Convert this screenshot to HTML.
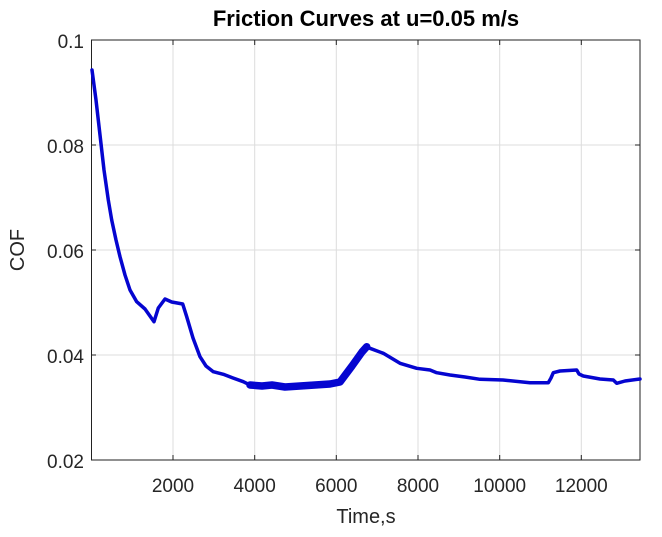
<!DOCTYPE html>
<html><head><style>body{margin:0;background:#fff}</style></head><body>
<svg width="662" height="532" xmlns="http://www.w3.org/2000/svg" font-family="Liberation Sans, Arial, sans-serif">
<rect width="662" height="532" fill="#fff"/>
<g stroke="#dcdcdc" stroke-width="1">
<line x1="173" y1="40" x2="173" y2="460"/><line x1="254.7" y1="40" x2="254.7" y2="460"/><line x1="336.3" y1="40" x2="336.3" y2="460"/><line x1="418" y1="40" x2="418" y2="460"/><line x1="499.7" y1="40" x2="499.7" y2="460"/><line x1="581.3" y1="40" x2="581.3" y2="460"/>
<line x1="91.5" y1="145" x2="640" y2="145"/><line x1="91.5" y1="250" x2="640" y2="250"/><line x1="91.5" y1="355" x2="640" y2="355"/>
</g>
<g stroke="#222" stroke-width="1">
<line x1="173" y1="460" x2="173" y2="455"/><line x1="254.7" y1="460" x2="254.7" y2="455"/><line x1="336.3" y1="460" x2="336.3" y2="455"/><line x1="418" y1="460" x2="418" y2="455"/><line x1="499.7" y1="460" x2="499.7" y2="455"/><line x1="581.3" y1="460" x2="581.3" y2="455"/>
<line x1="173" y1="40" x2="173" y2="45"/><line x1="254.7" y1="40" x2="254.7" y2="45"/><line x1="336.3" y1="40" x2="336.3" y2="45"/><line x1="418" y1="40" x2="418" y2="45"/><line x1="499.7" y1="40" x2="499.7" y2="45"/><line x1="581.3" y1="40" x2="581.3" y2="45"/>
<line x1="91.5" y1="145" x2="96" y2="145"/><line x1="91.5" y1="250" x2="96" y2="250"/><line x1="91.5" y1="355" x2="96" y2="355"/>
<line x1="640" y1="145" x2="635" y2="145"/><line x1="640" y1="250" x2="635" y2="250"/><line x1="640" y1="355" x2="635" y2="355"/>
<rect x="91.5" y="40" width="548.5" height="420" fill="none"/>
</g>
<g fill="none" stroke="#0505d0" stroke-linejoin="round" stroke-linecap="round">
<path stroke-width="3.5" d="M92,70 L96,100 L100,135 L104,170 L108.3,200 L111.7,220 L116,240 L120,256.7 L125,275 L130,290 L136.7,301.7 L145,309 L154,321.7 L158.3,308 L165,299 L171.7,302 L182.7,304 L186.7,316.7 L193,338 L200,356.7 L206,366 L213.3,371.7 L223.3,374.3 L233,378 L243.3,381.7 L250,385"/>
<path stroke-width="7.5" d="M250,385 L262,386 L272,385 L285,387 L300,386 L315,385 L330,384 L340,382 L352,366 L362,352 L366.7,346.7"/>
<path stroke-width="3.5" d="M366.7,346 L370,348.3 L383.3,353.3 L400,363.3 L416.7,368.3 L430,370 L436.7,372.7 L450,375 L465,377 L480,379.3 L503,380 L530,382.7 L548.3,382.7 L551,378 L553.3,372.7 L560,371 L576.7,370 L579,374 L583.3,376 L600,379 L613.3,380 L616.7,383.3 L625,381 L640,379"/>
</g>
<g font-size="19" fill="#262626">
<g text-anchor="end"><text x="84" y="48">0.1</text><text x="84" y="153">0.08</text><text x="84" y="258">0.06</text><text x="84" y="363">0.04</text><text x="84" y="468">0.02</text></g>
<g text-anchor="middle"><text x="173" y="492">2000</text><text x="254.7" y="492">4000</text><text x="336.3" y="492">6000</text><text x="418" y="492">8000</text><text x="499.7" y="492">10000</text><text x="581.3" y="492">12000</text>
<text x="366" y="523" font-size="20">Time,s</text>
<text transform="translate(24,250) rotate(-90)" font-size="20">COF</text></g>
</g>
<text x="366" y="26" text-anchor="middle" font-size="22" font-weight="bold" fill="#000">Friction Curves at u=0.05 m/s</text>
</svg>
</body></html>
